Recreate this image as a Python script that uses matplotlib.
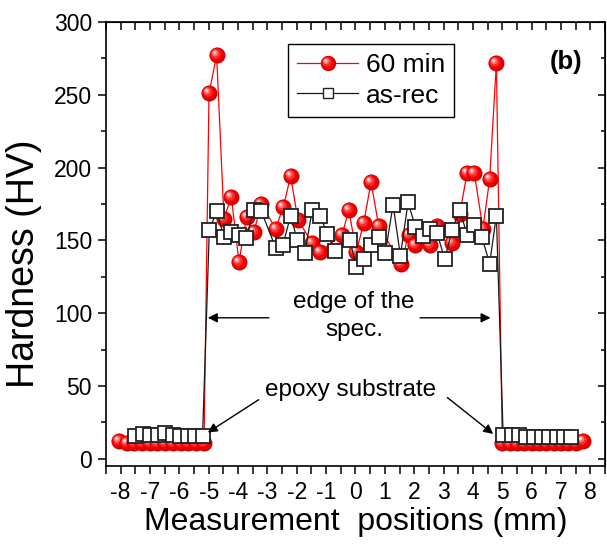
import numpy as np
import matplotlib
matplotlib.use("Agg")
import matplotlib.pyplot as plt
from matplotlib.path import Path
from matplotlib.lines import Line2D
from matplotlib.legend_handler import HandlerTuple
from matplotlib.ticker import MultipleLocator, FuncFormatter

plt.rcParams['font.family'] = ['Liberation Sans', 'DejaVu Sans']

# ---- hardness profile, 60 min treatment ----
x_60min = [-8.05, -7.8, -7.55, -7.27, -7.0, -6.75, -6.48, -6.22, -5.95, -5.69, -5.43, -5.16,
           -4.99, -4.73, -4.48, -4.23, -3.97, -3.71, -3.46, -3.21, -2.72, -2.46, -2.21, -1.96,
           -1.47, -1.21, -0.45, -0.23, 0.03, 0.28, 0.53, 0.79, 1.55, 1.81, 2.04, 2.55, 2.78,
           3.29, 3.55, 3.80, 4.05, 4.34, 4.57, 4.80,
           5.0, 5.25, 5.5, 5.75, 6.0, 6.25, 6.5, 6.75, 7.0, 7.25, 7.5, 7.76]
hv_60min = [12, 11, 11, 11, 11, 11, 11, 11, 11, 11, 11, 11,
            251, 277, 165, 180, 135, 166, 156, 175, 158, 173, 194, 164,
            148, 142, 154, 171, 142, 162, 190, 160, 134, 154, 147, 147, 160,
            148, 168, 196, 196, 158, 192, 272,
            11, 11, 11, 11, 11, 11, 11, 11, 11, 11, 11, 12]

# ---- hardness profile, as-received ----
x_asrec = [-7.50, -7.25, -6.99, -6.74, -6.48, -6.23, -5.98, -5.72, -5.47, -5.21,
           -4.98, -4.73, -4.48, -4.23, -3.97, -3.72, -3.46, -3.22, -2.72, -2.47, -2.21,
           -1.98, -1.73, -1.47, -1.21, -0.96, -0.71, -0.19, 0.03, 0.28, 0.53, 0.79, 1.02,
           1.28, 1.53, 1.79, 2.04, 2.30, 2.55, 2.78, 3.04, 3.29, 3.55, 3.80, 4.05, 4.31,
           4.57, 4.80,
           5.03, 5.32, 5.58, 5.82, 6.08, 6.34, 6.59, 6.85, 7.10, 7.35]
hv_asrec = [15.5, 17, 16, 16, 17.5, 16, 15.5, 15.5, 15.5, 15.5,
            157, 170, 152, 156, 154, 151.5, 171, 170.5, 145, 147, 167,
            150, 141, 171, 167, 154.5, 143, 150, 132, 137, 147, 152, 141.5,
            174.5, 139.5, 176, 159.5, 153, 157.5, 155, 137, 157, 171, 154, 160.5, 152,
            134, 167,
            16, 16, 16, 15, 15, 15, 15, 15, 15, 15]


def disc(cx, cy, r):
    """Circle path inside a fixed [-1, 1] frame so layers keep relative size/offset."""
    c = Path.circle((cx, cy), r)
    verts = np.vstack([c.vertices, [[1, 1], [-1, -1]]])
    codes = np.concatenate([c.codes, [Path.MOVETO, Path.MOVETO]])
    return Path(verts, codes)


# shaded "glass sphere" marker built from stacked discs
SPHERE = [
    (disc(0, 0, 1.0), '#c80000'),
    (disc(-0.07, 0.07, 0.9), '#ee0000'),
    (disc(-0.2, 0.2, 0.62), '#ff2a2a'),
    (disc(-0.3, 0.3, 0.4), '#ff7070'),
    (disc(-0.36, 0.36, 0.22), '#ffc0c0'),
    (disc(-0.38, 0.38, 0.1), '#fff4f4'),
]

fig = plt.figure(figsize=(6.07, 5.44), dpi=100)
ax = fig.add_axes([0.1746, 0.1434, 0.8221, 0.8162])

# red connecting line
ax.plot(x_60min, hv_60min, '-', color='#ff0000', lw=0.9, zorder=2)
# spheres, one at a time so later ones sit on top of earlier ones
ms_sphere = 11.5
for i, (xv, yv) in enumerate(zip(x_60min, hv_60min)):
    for j, (p, col) in enumerate(SPHERE):
        ax.plot([xv], [yv], ls='none', marker=p, ms=ms_sphere, mfc=col, mec='none',
                zorder=3 + i * 0.01 + j * 0.001)

# as-received: black line with open squares
ax.plot(x_asrec, hv_asrec, '-', color='#1a1a1a', lw=0.9, marker='s', ms=9.8,
        mfc='white', mec='#222222', mew=1.3, zorder=5)

ax.set_xlim(-8.5, 8.5)
ax.set_ylim(-5, 300)
ax.set_xticks(np.arange(-8.5, 8.51, 0.5))
ax.xaxis.set_major_formatter(FuncFormatter(
    lambda v, pos: f"{int(round(v))}" if abs(v - round(v)) < 1e-6 else ""))
ax.yaxis.set_major_locator(MultipleLocator(50))
ax.yaxis.set_minor_locator(MultipleLocator(25))

for s in ax.spines.values():
    s.set_linewidth(1.2)

ax.tick_params(axis='x', which='major', direction='out', length=6, width=1.1,
               labelsize=16.5, top=False, pad=5)
ax.tick_params(axis='y', which='major', direction='out', length=6, width=1.1,
               labelsize=16.5, right=False, pad=4)
ax.tick_params(axis='y', which='minor', direction='out', length=3.5, width=1.1,
               right=False)

# mirrored ticks pointing inward on top and right
top = ax.secondary_xaxis('top')
top.set_xticks(np.arange(-8.5, 8.51, 0.5))
top.tick_params(direction='in', length=6, width=1.1, labeltop=False)
right = ax.secondary_yaxis('right')
right.yaxis.set_major_locator(MultipleLocator(50))
right.yaxis.set_minor_locator(MultipleLocator(25))
right.tick_params(which='major', direction='in', length=5, width=1.1, labelright=False)
right.tick_params(which='minor', direction='in', length=3, width=1.1)

ax.set_xlabel('Measurement  positions (mm)', fontsize=23, labelpad=2)
ax.set_ylabel('Hardness (HV)', fontsize=27, labelpad=2)
ax.yaxis.set_label_coords(-0.128, 0.455)

# annotations
ax.text(-0.05, 98, 'edge of the\nspec.', ha='center', va='center', fontsize=17.5,
        linespacing=1.35, zorder=6)
arrow_kw = dict(arrowstyle='-|>', color='black', lw=1.0, mutation_scale=14,
                shrinkA=0, shrinkB=0)
ax.annotate('', xy=(-5.03, 96.8), xytext=(-2.95, 96.8), arrowprops=arrow_kw, zorder=6)
ax.annotate('', xy=(4.6, 96.8), xytext=(2.2, 96.8), arrowprops=arrow_kw, zorder=6)

ax.text(-0.17, 47.5, 'epoxy substrate', ha='center', va='center', fontsize=17.5, zorder=6)
ax.annotate('', xy=(-5.03, 18), xytext=(-3.3, 40.5), arrowprops=arrow_kw, zorder=6)
ax.annotate('', xy=(4.69, 17), xytext=(3.13, 42), arrowprops=arrow_kw, zorder=6)

ax.text(0.922, 0.91, '(b)', transform=ax.transAxes, ha='center', va='center',
        fontsize=18.5, fontweight='bold')

# legend proxies
leg_line_red = Line2D([], [], color='#ff0000', lw=0.9)
leg_layers = [Line2D([], [], ls='none', marker=p, ms=11, mfc=c, mec='none')
              for p, c in SPHERE]
leg_rec = Line2D([], [], color='#1a1a1a', lw=0.9, marker='s', ms=6.5,
                 mfc='white', mec='#222222', mew=1.0)
leg = ax.legend([tuple([leg_line_red] + leg_layers), leg_rec], ['60 min', 'as-rec'],
                handler_map={tuple: HandlerTuple(ndivide=1)},
                loc='upper left', bbox_to_anchor=(0.365, 0.951), fontsize=19,
                frameon=True, fancybox=False, framealpha=1, edgecolor='black',
                handlelength=2.3, handletextpad=0.3, borderpad=0.35,
                labelspacing=0.25, borderaxespad=0, numpoints=1)
leg.get_frame().set_linewidth(1.0)
leg.set_zorder(10)

fig.savefig('out.png', dpi=100)
